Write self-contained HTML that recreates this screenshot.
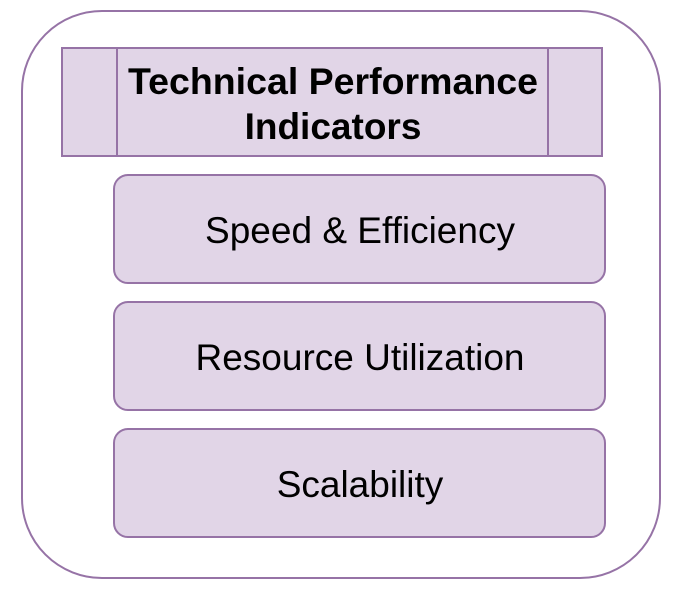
<!DOCTYPE html>
<html><head><style>body{margin:0;background:#fff}</style></head><body>
<svg width="681" height="591" xmlns="http://www.w3.org/2000/svg" font-family="Liberation Sans, sans-serif">
<rect x="22" y="11" width="638" height="567" rx="80" ry="80" fill="#fff" stroke="#9673a6" stroke-width="2"/>
<rect x="62" y="48" width="540" height="108" fill="#e1d5e7" stroke="#9673a6" stroke-width="2"/>
<line x1="117" y1="48" x2="117" y2="156" stroke="#9673a6" stroke-width="2"/>
<line x1="548" y1="48" x2="548" y2="156" stroke="#9673a6" stroke-width="2"/>
<text x="333" y="94" font-size="37" font-weight="bold" text-anchor="middle" textLength="410" lengthAdjust="spacingAndGlyphs">Technical Performance</text>
<text x="333" y="139" font-size="37" font-weight="bold" text-anchor="middle">Indicators</text>
<rect x="114" y="175" width="491" height="108" rx="14" fill="#e1d5e7" stroke="#9673a6" stroke-width="2"/>
<text x="360" y="243" font-size="37" text-anchor="middle">Speed &amp; Efficiency</text>
<rect x="114" y="302" width="491" height="108" rx="14" fill="#e1d5e7" stroke="#9673a6" stroke-width="2"/>
<text x="360" y="370" font-size="37" text-anchor="middle">Resource Utilization</text>
<rect x="114" y="429" width="491" height="108" rx="14" fill="#e1d5e7" stroke="#9673a6" stroke-width="2"/>
<text x="360" y="497" font-size="37" text-anchor="middle">Scalability</text>
</svg>
</body></html>
